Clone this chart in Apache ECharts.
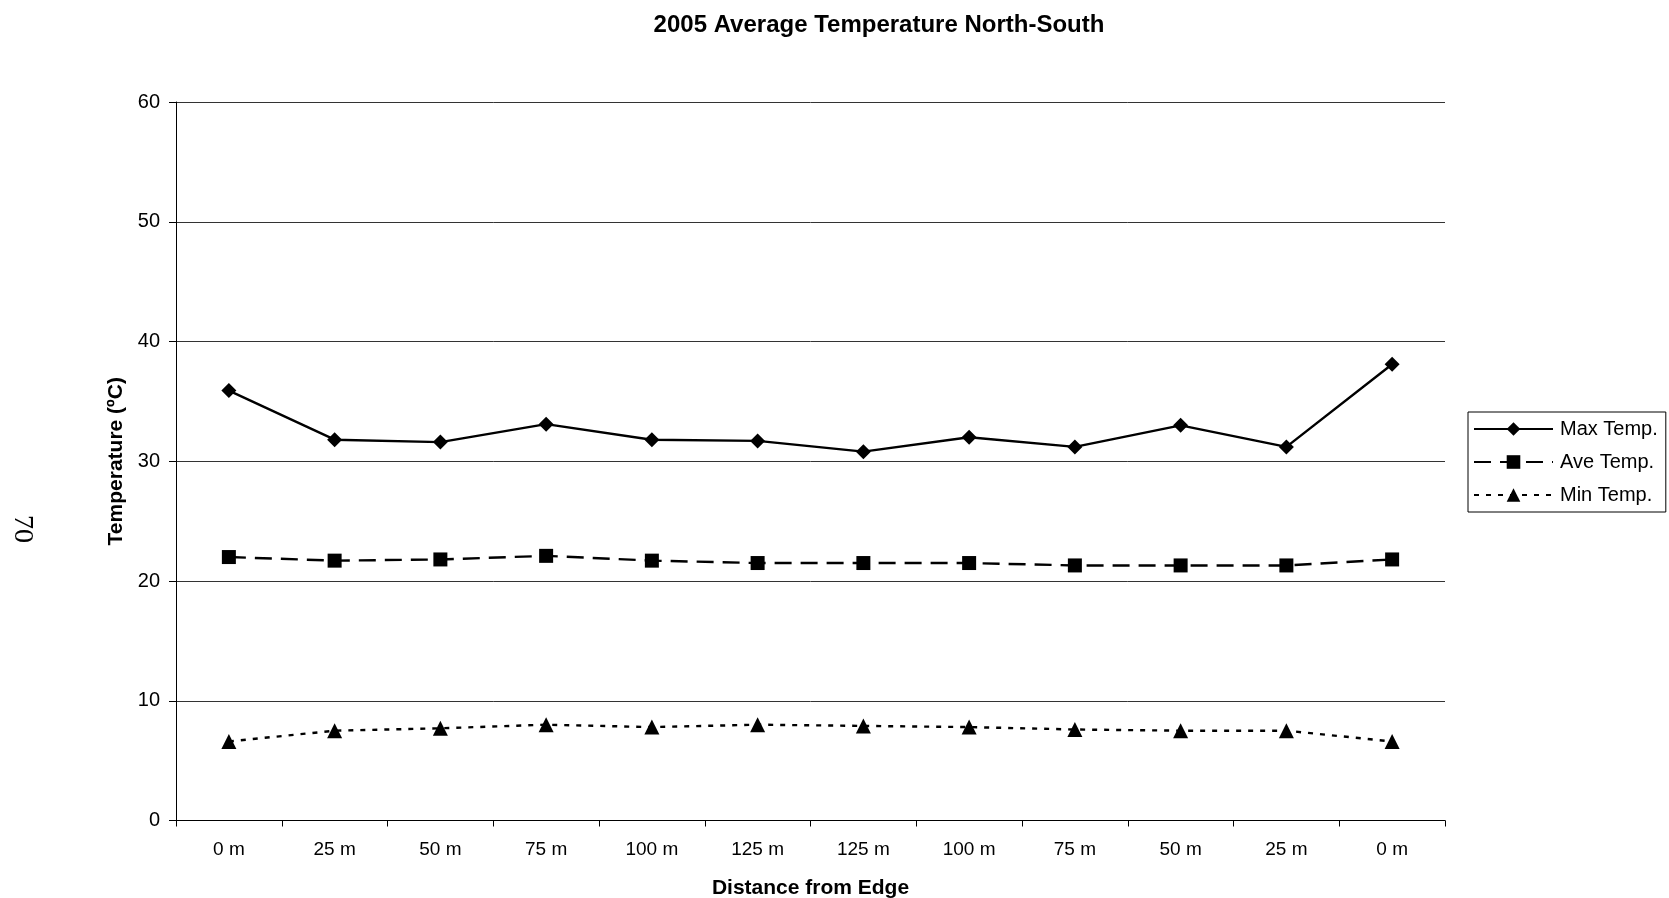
<!DOCTYPE html>
<html>
<head>
<meta charset="utf-8">
<script src="https://cdn.jsdelivr.net/npm/echarts@6/dist/echarts.min.js"></script>
<style>
  html, body { margin: 0; padding: 0; background: #fff; }
  #chart { width: 1669px; height: 898px; }
</style>
</head>
<body>
<div id="chart"></div>
<script>
// Transect positions, walking in from the north edge and back out to the south edge
const categories = ['0 m', '25 m', '50 m', '75 m', '100 m', '125 m', '125 m', '100 m', '75 m', '50 m', '25 m', '0 m'];

// Temperatures in °C
const maxTemp = [35.9, 31.8, 31.6, 33.1, 31.8, 31.7, 30.8, 32.0, 31.2, 33.0, 31.2, 38.1];
const aveTemp = [22.0, 21.7, 21.8, 22.1, 21.7, 21.5, 21.5, 21.5, 21.3, 21.3, 21.3, 21.8];
const minTemp = [6.6, 7.5, 7.7, 8.0, 7.8, 8.0, 7.9, 7.8, 7.6, 7.5, 7.5, 6.6];

const yTicks = { min: 0, max: 60, interval: 10 };

const font = 'Liberation Sans, Arial, sans-serif';
const chart = echarts.init(document.getElementById('chart'), null, { renderer: 'canvas' });

const lineSeries = (name, data, symbol, symbolSize, lineType) => ({
  name,
  type: 'line',
  data,
  symbol,
  symbolSize,
  showAllSymbol: true,
  animation: false,
  itemStyle: { color: '#000' },
  lineStyle: { color: '#000', width: 2.4, type: lineType },
  emphasis: { disabled: true }
});

chart.setOption({
  backgroundColor: '#fff',
  animation: false,
  title: {
    text: '2005 Average Temperature North-South',
    left: 874,
    top: 8,
    textAlign: 'center',
    textStyle: { fontFamily: font, fontSize: 24, fontWeight: 'bold', color: '#000' }
  },
  grid: {
    left: 176, right: 224, top: 102, bottom: 77.5,
    containLabel: false,
    outerBoundsMode: 'none'
  },
  legend: {
    orient: 'vertical',
    left: 1468,
    top: 412,
    width: 199,
    padding: [7, 8, 7, 5],
    itemWidth: 79,
    itemHeight: 17,
    itemGap: 13,
    borderColor: '#000',
    borderWidth: 1,
    borderRadius: 0,
    textStyle: { fontFamily: font, fontSize: 20, color: '#000', padding: [0, 0, 0, 2] },
    data: ['Max Temp.', 'Ave Temp.', 'Min Temp.']
  },
  xAxis: {
    type: 'category',
    data: categories,
    boundaryGap: true,
    name: 'Distance from Edge',
    nameLocation: 'middle',
    nameGap: 57,
    nameTextStyle: { fontFamily: font, fontSize: 21, fontWeight: 'bold', color: '#000' },
    axisLine: { lineStyle: { color: '#000', width: 1 } },
    axisTick: { show: true, alignWithLabel: false, length: 6, lineStyle: { color: '#000' } },
    axisLabel: { fontFamily: font, fontSize: 19, color: '#000', margin: 20, interval: 0 },
    splitLine: { show: false }
  },
  yAxis: {
    type: 'value',
    min: yTicks.min,
    max: yTicks.max,
    interval: yTicks.interval,
    name: 'Temperature (ºC)',
    nameLocation: 'middle',
    nameGap: 49,
    nameRotate: 90,
    nameTextStyle: { fontFamily: font, fontSize: 21, fontWeight: 'bold', color: '#000' },
    axisLine: { show: true, lineStyle: { color: '#000', width: 1 } },
    axisTick: { show: true, length: 7, lineStyle: { color: '#000' } },
    axisLabel: { fontFamily: font, fontSize: 20, color: '#000', margin: 16 },
    splitLine: { show: true, lineStyle: { color: '#333', width: 1 } }
  },
  series: [
    lineSeries('Max Temp.', maxTemp, 'diamond', 15, 'solid'),
    lineSeries('Ave Temp.', aveTemp, 'rect', 14, [17, 9]),
    lineSeries('Min Temp.', minTemp, 'triangle', 15, [5, 7])
  ],
  graphic: [{
    type: 'text',
    x: 22,
    y: 529,
    rotation: -Math.PI / 2,
    style: {
      text: '70',
      font: '28px "Liberation Serif", "Times New Roman", serif',
      fill: '#000',
      align: 'center',
      verticalAlign: 'middle'
    }
  }]
});
</script>
</body>
</html>
